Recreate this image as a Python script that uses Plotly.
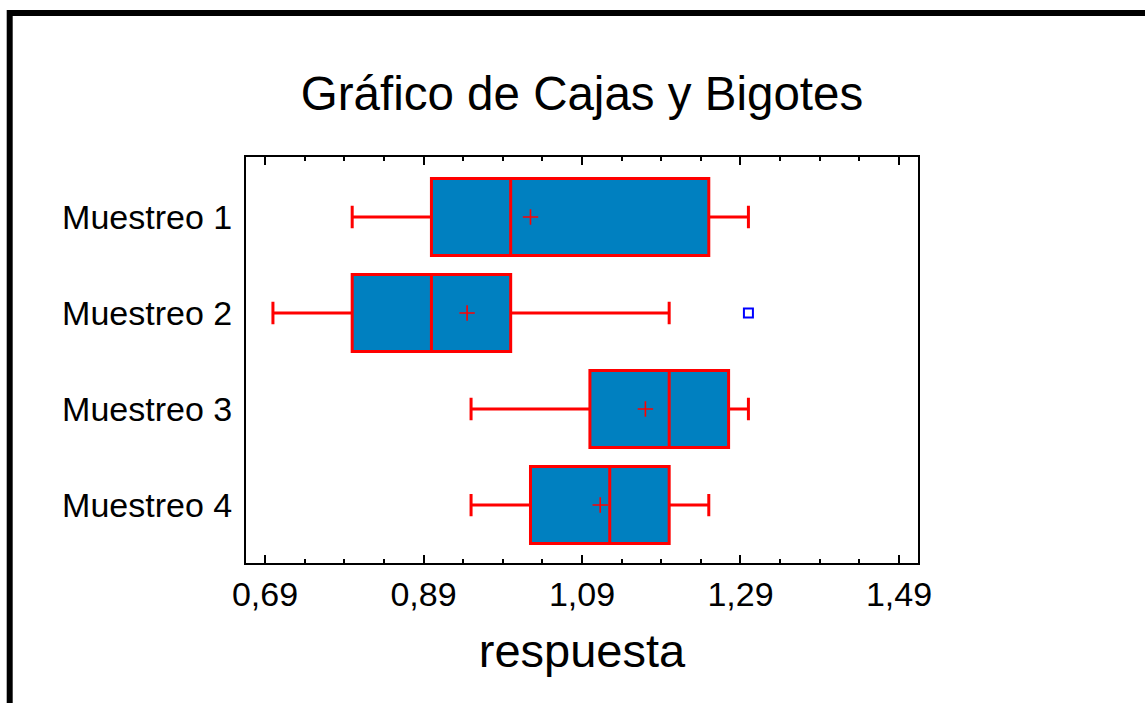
import plotly.graph_objects as go

categories = ["Muestreo 1", "Muestreo 2", "Muestreo 3", "Muestreo 4"]
lower_whisker = [0.80, 0.70, 0.95, 0.95]
q1_vals = [0.90, 0.80, 1.10, 1.025]
median_vals = [1.00, 0.90, 1.20, 1.125]
q3_vals = [1.25, 1.00, 1.275, 1.20]
upper_whisker = [1.30, 1.20, 1.30, 1.25]
mean_vals = [1.025, 0.945, 1.17, 1.113]
outlier_cats = ["Muestreo 2"]
outlier_vals = [1.30]

FONT = "Liberation Sans, Arial, sans-serif"

fig = go.Figure()
for i, c in enumerate(categories):
    fig.add_trace(go.Box(
        y=[c], orientation="h",
        q1=[q1_vals[i]], median=[median_vals[i]], q3=[q3_vals[i]],
        lowerfence=[lower_whisker[i]], upperfence=[upper_whisker[i]],
        boxpoints=False, width=0.8, whiskerwidth=0.29,
        fillcolor="#0080C0", line=dict(color="#FF0000", width=3),
        showlegend=False, hoverinfo="skip",
    ))

fig.add_trace(go.Scatter(
    x=mean_vals, y=categories, mode="markers",
    marker=dict(symbol="cross-thin", size=11, line=dict(color="#FF0000", width=1.6)),
    showlegend=False, hoverinfo="skip",
))
fig.add_trace(go.Scatter(
    x=outlier_vals, y=outlier_cats, mode="markers",
    marker=dict(symbol="square-open", size=9, color="#0000FF", line=dict(color="#0000FF", width=2)),
    showlegend=False, hoverinfo="skip",
))

L, R, T, B = 246, 918, 157, 563
W, H = 1145, 703
pw, ph = R - L, B - T

def px(x):
    return (x - L) / pw

def py(y):
    return (B - y) / ph

fig.update_layout(
    width=W, height=H,
    margin=dict(l=L, r=W - R, t=T, b=H - B, pad=0),
    paper_bgcolor="white", plot_bgcolor="white",
    separators=",.",
    font=dict(family=FONT, color="black", size=34),
    title=dict(text="Gráfico de Cajas y Bigotes", font=dict(family=FONT, size=47.5, color="black"),
               x=0.5, xref="paper", xanchor="center", y=1 - 93.5 / H, yref="container", yanchor="middle"),
    xaxis=dict(
        range=[0.666, 1.514], tick0=0.69, dtick=0.2, tickformat=".2f",
        ticks="inside", ticklen=8, tickwidth=2, tickcolor="black",
        minor=dict(dtick=0.05, tick0=0.69, ticks="inside", ticklen=4, tickwidth=1.5, tickcolor="black"),
        showline=True, linewidth=2, linecolor="black", mirror="allticks",
        showgrid=False, zeroline=False,
        tickfont=dict(family=FONT, size=34, color="black"),
        title=dict(text="respuesta", font=dict(family=FONT, size=47, color="black"), standoff=22),
    ),
    yaxis=dict(
        type="category", categoryorder="array", categoryarray=categories,
        range=[3.604, -0.625],
        showline=True, linewidth=2, linecolor="black", mirror=True,
        ticks="", showgrid=False, zeroline=False,
        tickfont=dict(family=FONT, size=34, color="black"),
        ticklabelstandoff=5,
    ),
    shapes=[
        dict(type="line", xref="paper", yref="paper", x0=px(7), x1=px(1160), y0=py(13), y1=py(13),
             line=dict(color="black", width=6)),
        dict(type="line", xref="paper", yref="paper", x0=px(9.7), x1=px(9.7), y0=py(10), y1=py(720),
             line=dict(color="black", width=6)),
    ],
)

fig.write_html("out.html")
